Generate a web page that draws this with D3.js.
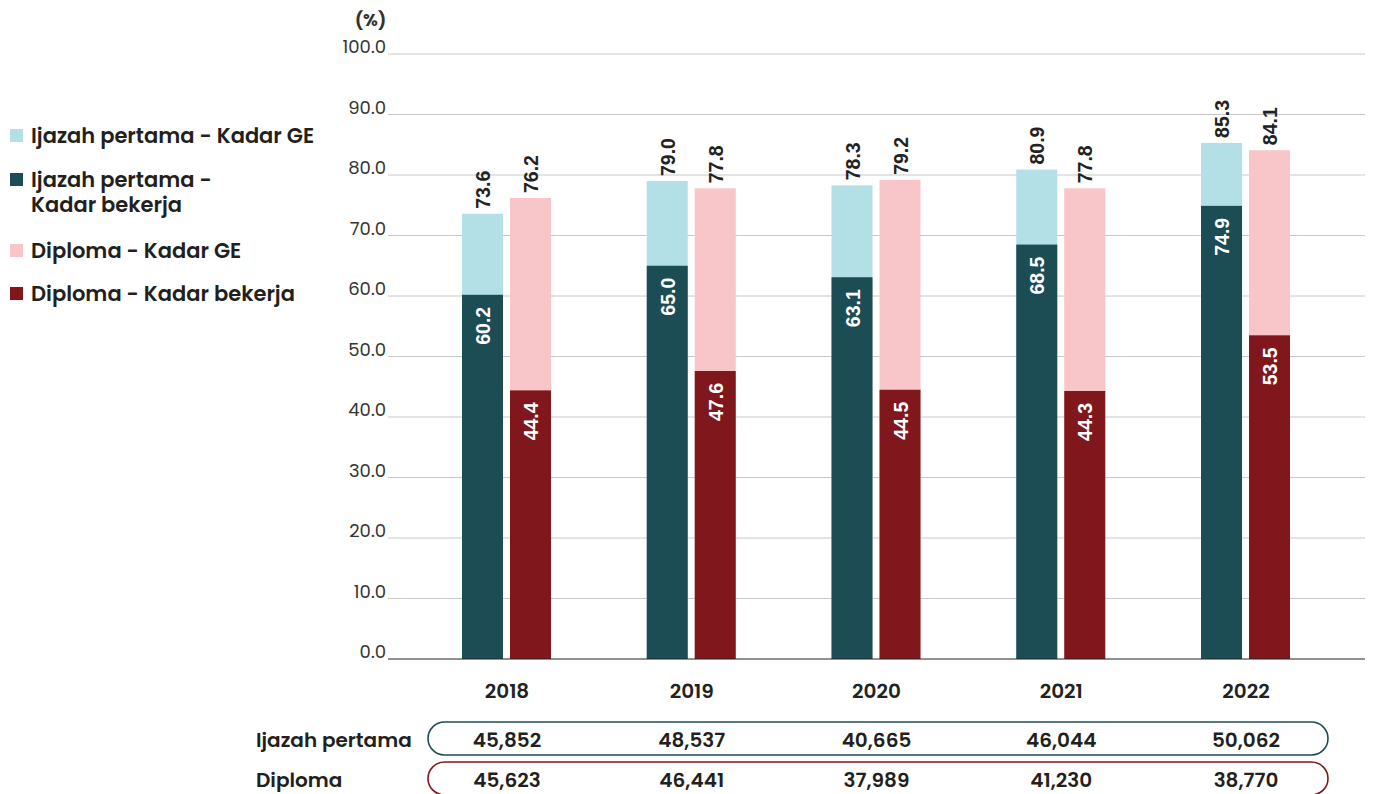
<!DOCTYPE html>
<html><head><meta charset="utf-8">
<script src="https://cdn.jsdelivr.net/npm/d3@7"></script>
<style>body{margin:0;background:#fff}svg{display:block}</style>
</head><body>
<svg id="c" width="1373" height="794"></svg>
<script>
const years = ["2018","2019","2020","2021","2022"];
const ijazahGE = [73.6,79.0,78.3,80.9,85.3];
const ijazahKerja = [60.2,65.0,63.1,68.5,74.9];
const diplomaGE = [76.2,77.8,79.2,77.8,84.1];
const diplomaKerja = [44.4,47.6,44.5,44.3,53.5];
const ijazahCount = ["45,852","48,537","40,665","46,044","50,062"];
const diplomaCount = ["45,623","46,441","37,989","41,230","38,770"];
const yTicks = [0,10,20,30,40,50,60,70,80,90,100];
const legendItems = [
  {lines:["Ijazah pertama - Kadar GE"], color:"#b3e0e6"},
  {lines:["Ijazah pertama -","Kadar bekerja"], color:"#1c4c54"},
  {lines:["Diploma - Kadar GE"], color:"#f8c5c9"},
  {lines:["Diploma - Kadar bekerja"], color:"#80171c"}
];
const C = {ijGE:"#b3e0e6", ijK:"#1c4c54", dGE:"#f8c5c9", dK:"#80171c"};
const font = "Poppins, Inter, 'Open Sans', sans-serif";
const numFont = "'Liberation Sans', Arial, sans-serif";
const svg = d3.select("#c");
const y = d3.scaleLinear().domain([0,100]).range([659,54]);
const x = d3.scaleBand().domain(years).range([388,1365]).paddingOuter(0.144).paddingInner(0);

// grid
svg.append("g").selectAll("line").data(yTicks.filter(d=>d>0)).join("line")
  .attr("x1",388).attr("x2",1365).attr("y1",d=>y(d)).attr("y2",d=>y(d))
  .attr("stroke","#c8c8c8").attr("stroke-width",1);
svg.append("g").selectAll("text").data(yTicks).join("text")
  .attr("x",386).attr("y",d=>y(d)-1).attr("text-anchor","end")
  .attr("font-family",font).attr("font-weight",400).attr("font-size",18).attr("fill","#333")
  .text(d=>d.toFixed(1));
svg.append("text").attr("x",386).attr("y",26).attr("text-anchor","end")
  .attr("font-family",font).attr("font-weight",700).attr("font-size",17).attr("fill","#333").text("(%)");

const bw = 41;
const groups = svg.append("g").selectAll("g").data(years).join("g")
  .attr("transform",d=>`translate(${x(d)+x.bandwidth()/2},0)`);
function stack(xoff, ge, kerja, cGE, cK){
  groups.append("rect").attr("x",xoff).attr("width",bw)
    .attr("y",(d,i)=>y(ge[i])).attr("height",(d,i)=>y(0)-y(ge[i])).attr("fill",cGE);
  groups.append("rect").attr("x",xoff).attr("width",bw)
    .attr("y",(d,i)=>y(kerja[i])).attr("height",(d,i)=>y(0)-y(kerja[i])).attr("fill",cK);
  groups.append("text").attr("transform",(d,i)=>`translate(${xoff+bw/2+7.5},${y(ge[i])-5}) rotate(-90)`)
    .attr("font-family",numFont).attr("font-weight",700).attr("font-size",19.5)
    .attr("fill","#222").text((d,i)=>ge[i].toFixed(1));
  groups.append("text").attr("transform",(d,i)=>`translate(${xoff+bw/2+7.5},${y(kerja[i])+12}) rotate(-90)`)
    .attr("text-anchor","end")
    .attr("font-family",numFont).attr("font-weight",700).attr("font-size",19.5)
    .attr("fill","#fff").text((d,i)=>kerja[i].toFixed(1));
}
stack(-45, ijazahGE, ijazahKerja, C.ijGE, C.ijK);
stack(3, diplomaGE, diplomaKerja, C.dGE, C.dK);

svg.append("line").attr("x1",388).attr("x2",1365).attr("y1",y(0)).attr("y2",y(0)).attr("stroke","#222").attr("stroke-width",1.2);

groups.append("text").attr("y",698).attr("text-anchor","middle")
  .attr("font-family",font).attr("font-weight",600).attr("font-size",20).attr("fill","#222").text(d=>d);

// legend
const sqBottom = [142,186,257,300];
legendItems.forEach((it,k)=>{
  svg.append("rect").attr("x",10).attr("y",sqBottom[k]-13).attr("width",13).attr("height",13).attr("fill",it.color);
  const t = svg.append("text").attr("x",31).attr("y",sqBottom[k]+1).attr("font-family",font).attr("font-weight",600)
      .attr("font-size",21).attr("fill","#231f20");
  it.lines.forEach((s,j)=>{
    t.append("tspan").attr("x",31).attr("dy",j===0?0:25).text(s);
  });
});

// table
const rows = [{label:"Ijazah pertama", vals:ijazahCount, color:"#1c4c54", y:722},
              {label:"Diploma", vals:diplomaCount, color:"#80171c", y:762}];
rows.forEach(r=>{
  svg.append("rect").attr("x",428).attr("y",r.y).attr("width",900).attr("height",33).attr("rx",16.5)
    .attr("fill","none").attr("stroke",r.color).attr("stroke-width",1.6);
  svg.append("text").attr("x",256).attr("y",r.y+25).attr("font-family",font).attr("font-weight",600)
    .attr("font-size",20).attr("fill","#231f20").text(r.label);
  svg.append("g").selectAll("text").data(years).join("text")
    .attr("x",d=>x(d)+x.bandwidth()/2).attr("y",r.y+25).attr("text-anchor","middle")
    .attr("font-family",font).attr("font-weight",600).attr("font-size",20).attr("fill","#231f20")
    .text((d,i)=>r.vals[i]);
});
</script>
</body></html>
